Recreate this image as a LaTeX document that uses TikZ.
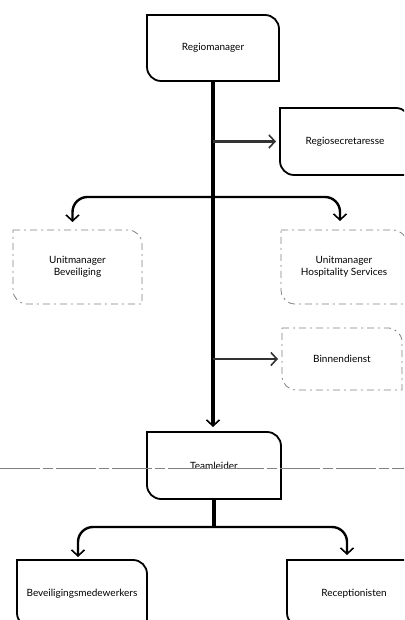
\documentclass[tikz,border=0pt]{standalone}
\usepackage{fontspec}
\setmainfont{Lato}
\usetikzlibrary{arrows.meta}
\newcommand\orgoutline[2][]{\draw[#1] (#2.north west) -- ([xshift=-14pt]#2.north east) arc[start angle=90,end angle=0,radius=14pt] -- (#2.south east) -- ([xshift=14pt]#2.south west) arc[start angle=270,end angle=180,radius=14pt] -- cycle;}
\begin{document}
\begin{tikzpicture}[x=1pt,y=1pt,
  box/.style={rectangle,draw=none,outer sep=0pt,inner sep=2pt,align=center,font=\fontsize{10}{12}\selectfont},
  solidbox/.style={line width=1.8pt,black},
  lightbox/.style={line width=0.8pt,black!50,dash pattern=on 7pt off 4pt on 2pt off 4pt},
  tip/.style={-{Straight Barb[length=6pt,width=13pt,line width=1.6pt]}},
  trunk/.style={line width=4pt,black},
  branch/.style={tip,line width=2.4pt,black,rounded corners=15pt},
  side/.style={tip,line width=2.2pt,black!80,shorten >=4pt}]
\useasboundingbox (0,0) rectangle (404,620);
\clip (0,0) rectangle (404,620);
\fill[white] (0,0) rectangle (404,620);
\node[box,minimum width=132pt,minimum height=66pt] (rm) at (213,572) {Regiomanager};
\node[box,minimum width=130pt,minimum height=67pt] (rsec) at (345,478.5) {Regiosecretaresse};
\node[box,minimum width=129pt,minimum height=74pt] (ubev) at (77.5,353) {Unitmanager\\Beveiliging};
\node[box,minimum width=126pt,minimum height=74pt] (uhos) at (344,353) {Unitmanager\\Hospitality Services};
\node[box,minimum width=120pt,minimum height=62pt] (binn) at (342,261) {Binnendienst};
\node[box,minimum width=134pt,minimum height=67pt] (team) at (214,154.5) {Teamleider};
\node[box,minimum width=130pt,minimum height=67pt] (bmw) at (82,26.5) {Beveiligingsmedewerkers};
\node[box,minimum width=134pt,minimum height=67pt] (rec) at (354,26.5) {Receptionisten};
\orgoutline[solidbox]{rm}
\orgoutline[solidbox]{rsec}
\orgoutline[lightbox]{ubev}
\orgoutline[lightbox]{uhos}
\orgoutline[lightbox]{binn}
\orgoutline[solidbox]{team}
\orgoutline[solidbox]{bmw}
\orgoutline[solidbox]{rec}
\coordinate (j1) at (213,423);
\coordinate (j2) at (214,93);
\draw[trunk,tip,shorten >=5pt] (rm.south) -- (rm.south |- team.north);
\draw[side] (rm.south |- rsec.west) -- (rsec.west);
\draw[side] (rm.south |- binn.west) -- (binn.west);
\draw[branch,shorten >=8pt] (j1) -| ([xshift=-5pt]ubev.north);
\draw[branch,shorten >=9pt] (j1) -| ([xshift=-4pt]uhos.north);
\draw[trunk] (team.south) -- (j2);
\draw[branch,shorten >=3pt] (j2) -| ([xshift=-4pt]bmw.north);
\draw[branch,shorten >=5pt] (j2) -| ([xshift=-7pt]rec.north);
\draw[black!50,line width=0.7pt,dash pattern=on 40pt off 3pt on 10pt off 3pt] (0,152) -- (404,152);
\end{tikzpicture}
\end{document}
